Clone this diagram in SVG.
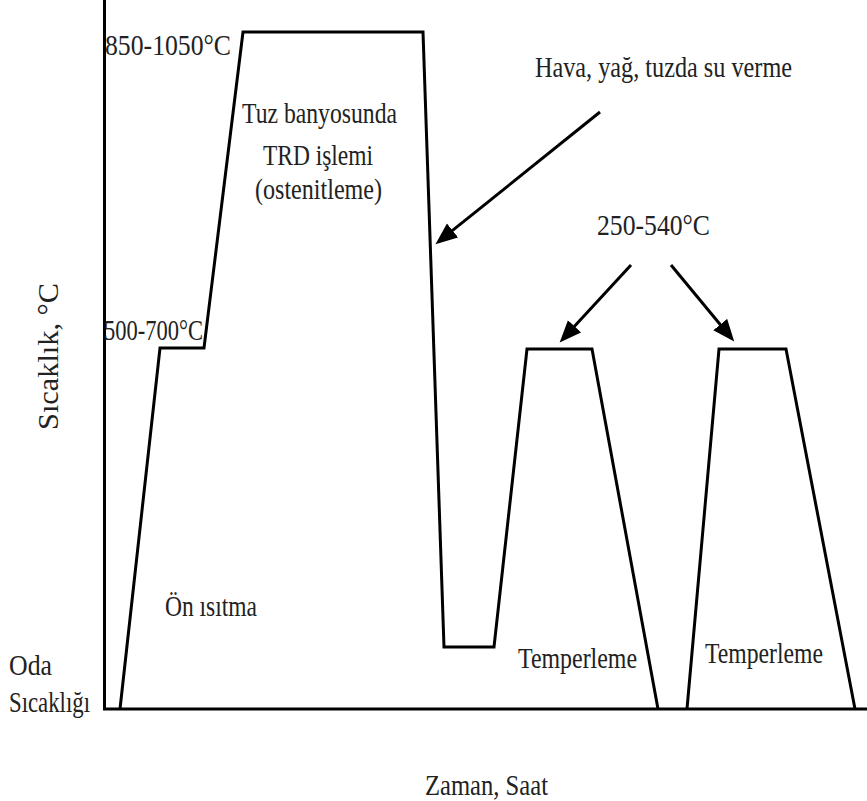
<svg xmlns="http://www.w3.org/2000/svg" width="867" height="801" viewBox="0 0 867 801">
  <style>
    .ax { stroke: #000; stroke-width: 3; fill: none; }
    .pr { stroke: #000; stroke-width: 3; fill: none; stroke-linejoin: miter; }
    .ar { stroke: #000; stroke-width: 3; fill: none; }
    text { font-family: "Liberation Serif", "Times New Roman", serif; fill: #222; font-size: 30px; }
  </style>
  <defs>
    <marker id="ah" markerUnits="userSpaceOnUse" markerWidth="24" markerHeight="20" refX="10" refY="9" orient="auto">
      <path d="M0,0 L22,9 L0,18 z" fill="#000"/>
    </marker>
  </defs>

  <g id="axes">
    <line class="ax" x1="104.5" y1="0" x2="104.5" y2="710"/>
    <line class="ax" x1="103" y1="709" x2="867" y2="709"/>
  </g>

  <g id="profile">
    <polyline class="pr" points="120,709 160,348 204,348 243,32 423,32 444,647 494,647 527,349 592,349 658,709"/>
    <polyline class="pr" points="687,709 719,349 786,349 855,709"/>
  </g>

  <g id="connectors">
    <line class="ar" x1="600" y1="112" x2="444.8" y2="236.7" marker-end="url(#ah)"/>
    <line class="ar" x1="631" y1="265" x2="567.8" y2="333.6" marker-end="url(#ah)"/>
    <line class="ar" x1="671" y1="265" x2="726.6" y2="332.3" marker-end="url(#ah)"/>
  </g>

  <g id="label-850">
    <text x="105" y="55" textLength="126" lengthAdjust="spacingAndGlyphs">850-1050°C</text>
  </g>
  <g id="label-500">
    <text x="104" y="340" font-size="26" textLength="99" lengthAdjust="spacingAndGlyphs">500-700°C</text>
  </g>
  <g id="label-tuz">
    <text x="242" y="123" textLength="155" lengthAdjust="spacingAndGlyphs">Tuz banyosunda</text>
    <text x="263" y="165" textLength="110" lengthAdjust="spacingAndGlyphs">TRD işlemi</text>
    <text x="255" y="199" textLength="127" lengthAdjust="spacingAndGlyphs">(ostenitleme)</text>
  </g>
  <g id="label-hava">
    <text x="535" y="77" textLength="257" lengthAdjust="spacingAndGlyphs">Hava, yağ, tuzda su verme</text>
  </g>
  <g id="label-250">
    <text x="597" y="235" textLength="113" lengthAdjust="spacingAndGlyphs">250-540°C</text>
  </g>
  <g id="label-on">
    <text x="165" y="616" font-size="27" textLength="92" lengthAdjust="spacingAndGlyphs">Ön ısıtma</text>
  </g>
  <g id="label-oda">
    <text x="9" y="675" font-size="27" textLength="43" lengthAdjust="spacingAndGlyphs">Oda</text>
    <text x="9" y="712" font-size="27" textLength="81" lengthAdjust="spacingAndGlyphs">Sıcaklığı</text>
  </g>
  <g id="label-temper1">
    <text x="518" y="668" textLength="119" lengthAdjust="spacingAndGlyphs">Temperleme</text>
  </g>
  <g id="label-temper2">
    <text x="705" y="663" textLength="118" lengthAdjust="spacingAndGlyphs">Temperleme</text>
  </g>
  <g id="label-y">
    <text transform="translate(58,430) rotate(-90)" x="0" y="0" font-size="28" textLength="147" lengthAdjust="spacingAndGlyphs">Sıcaklık, °C</text>
  </g>
  <g id="label-x">
    <text x="425" y="795" textLength="123" lengthAdjust="spacingAndGlyphs">Zaman, Saat</text>
  </g>
</svg>
